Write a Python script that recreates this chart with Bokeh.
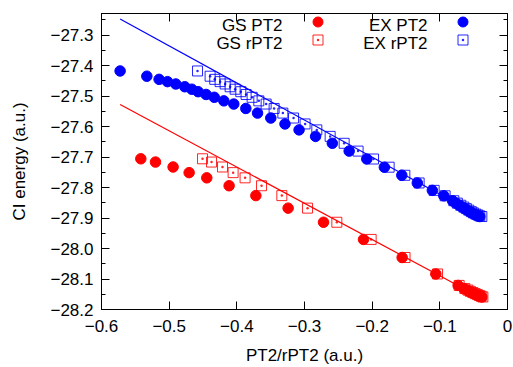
from bokeh.plotting import figure
from bokeh.models import (Range1d, FixedTicker, LinearAxis, Legend, LegendItem, Label,
                          CustomLabelingPolicy)
from bokeh.embed import file_html
from bokeh.resources import INLINE

# ---- data ----
gs_energy = [-27.7056, -27.7163, -27.7325, -27.7510, -27.7681, -27.7940, -27.8264,
             -27.8675, -27.9138, -27.9701, -28.0294, -28.0834, -28.1210, -28.1313,
             -28.1362, -28.1404, -28.1443, -28.1478, -28.1511, -28.1540, -28.1566, -28.1589]
gs_pt2 = [-0.5419, -0.5202, -0.4942, -0.4705, -0.4444, -0.4114, -0.3719,
          -0.3242, -0.2719, -0.2128, -0.1557, -0.1059, -0.0730, -0.0645,
          -0.0601, -0.0564, -0.0527, -0.0493, -0.0461, -0.0431, -0.0404, -0.0379]
gs_rpt2 = [-0.4507, -0.4374, -0.4212, -0.4055, -0.3878, -0.3635, -0.3335,
           -0.2955, -0.2522, -0.2015, -0.1514, -0.1034, -0.0715, -0.0630,
           -0.0586, -0.0549, -0.0512, -0.0478, -0.0446, -0.0416, -0.0390, -0.0364]

ex_energy = [-27.4175, -27.4347, -27.4450, -27.4525, -27.4602, -27.4693, -27.4774,
             -27.4855, -27.4946, -27.5039, -27.5156, -27.5260, -27.5405, -27.5557,
             -27.5719, -27.5913, -27.6108, -27.6321, -27.6548, -27.6804, -27.7063,
             -27.7332, -27.7597, -27.7849, -27.8092, -27.8270, -27.8432, -27.8510,
             -27.8580, -27.8640, -27.8690, -27.8740, -27.8790, -27.8830, -27.8870,
             -27.8900, -27.8930, -27.8950]
ex_pt2 = [-0.5725, -0.5330, -0.5149, -0.5025, -0.4902, -0.4769, -0.4665,
          -0.4572, -0.4454, -0.4333, -0.4192, -0.4045, -0.3867, -0.3694,
          -0.3498, -0.3288, -0.3080, -0.2836, -0.2589, -0.2340, -0.2079,
          -0.1820, -0.1562, -0.1333, -0.1111, -0.0941, -0.0812, -0.0764,
          -0.0712, -0.0667, -0.0630, -0.0594, -0.0557, -0.0527, -0.0490,
          -0.0460, -0.0431, -0.0409]
ex_rpt2 = [-0.4581, -0.4395, -0.4326, -0.4247, -0.4173, -0.4099, -0.4025,
           -0.3941, -0.3863, -0.3774, -0.3675, -0.3567, -0.3449, -0.3320,
           -0.3162, -0.2991, -0.2818, -0.2621, -0.2414, -0.2208, -0.1980,
           -0.1749, -0.1517, -0.1306, -0.1084, -0.0922, -0.0793, -0.0741,
           -0.0690, -0.0645, -0.0608, -0.0572, -0.0535, -0.0505, -0.0468,
           -0.0438, -0.0409, -0.0379]

# linear fits (end points)
gs_fit_x = [-0.5725, -0.036]
gs_fit_y = [-27.5276, -28.1656]
ex_fit_x = [-0.5725, -0.036]
ex_fit_y = [-27.2470, -27.9000]

x_ticks = [-0.6, -0.5, -0.4, -0.3, -0.2, -0.1, 0.0]
x_tick_labels = ["\u22120.6", "\u22120.5", "\u22120.4", "\u22120.3", "\u22120.2", "\u22120.1", "0"]
y_ticks = [-28.2, -28.1, -28.0, -27.9, -27.8, -27.7, -27.6, -27.5, -27.4, -27.3]
y_tick_labels = ["\u221228.2", "\u221228.1", "\u221228.0", "\u221227.9", "\u221227.8",
                 "\u221227.7", "\u221227.6", "\u221227.5", "\u221227.4", "\u221227.3"]
y_minor = [-28.15, -28.05, -27.95, -27.85, -27.75, -27.65, -27.55, -27.45, -27.35, -27.25]

series_names = ["GS PT2", "GS rPT2", "EX PT2", "EX rPT2"]

RED = "#ff0000"
BLUE = "#0000ff"
FONT = "Liberation Sans"
FS = "17px"

p = figure(width=513, height=367, output_backend="svg", toolbar_location=None,
           x_range=Range1d(-0.6, 0.0), y_range=Range1d(-28.2, -27.229),
           min_border_left=101, min_border_right=6, min_border_top=13, min_border_bottom=54)
p.grid.visible = False
p.outline_line_color = "black"
p.outline_line_width = 1
p.background_fill_color = "white"
p.border_fill_color = "white"

xt = FixedTicker(ticks=x_ticks)
yt = FixedTicker(ticks=y_ticks, minor_ticks=y_minor)
xlabels = {t: l for t, l in zip(x_ticks, x_tick_labels)}
ylabels = {t: l for t, l in zip(y_ticks, y_tick_labels)}


def style(ax, show_labels, minor):
    ax.axis_line_color = "black"
    ax.major_tick_line_color = "black"
    ax.major_tick_in = 8
    ax.major_tick_out = 0
    if minor:
        ax.minor_tick_line_color = "black"
        ax.minor_tick_in = 4
        ax.minor_tick_out = 0
    else:
        ax.minor_tick_line_color = None
    ax.major_label_text_font = FONT
    ax.major_label_text_color = "black"
    if show_labels:
        ax.major_label_text_font_size = FS
    else:
        # mirror axis: ticks only, no labels drawn and no room taken
        ax.major_label_text_font_size = "0px"
        ax.major_label_policy = CustomLabelingPolicy(code="return new Set()")
        ax.major_label_standoff = 0


xa = p.xaxis[0]
xa.ticker = xt
xa.major_label_overrides = xlabels
style(xa, True, False)
xa.major_label_standoff = 10
xa.axis_label = "PT2/rPT2 (a.u.)"
xa.axis_label_text_font = FONT
xa.axis_label_text_font_size = FS
xa.axis_label_text_font_style = "normal"
xa.axis_label_text_color = "black"
xa.axis_label_standoff = 11

ya = p.yaxis[0]
ya.ticker = yt
ya.major_label_overrides = ylabels
style(ya, True, True)
ya.major_label_standoff = 8
ya.axis_label = "CI energy (a.u.)"
ya.axis_label_text_font = FONT
ya.axis_label_text_font_size = FS
ya.axis_label_text_font_style = "normal"
ya.axis_label_text_color = "black"
ya.axis_label_standoff = 18

top = LinearAxis(ticker=xt)
style(top, False, False)
p.add_layout(top, "above")
right = LinearAxis(ticker=yt)
style(right, False, True)
p.add_layout(right, "right")

r_gs = p.scatter(gs_pt2, gs_energy, marker="circle", size=10.5, color=RED)
r_gsr = p.scatter(gs_rpt2, gs_energy, marker="square_dot", size=10, fill_alpha=0,
                  line_color=RED, line_alpha=0.85, line_width=1)
r_ex = p.scatter(ex_pt2, ex_energy, marker="circle", size=10.5, color=BLUE)
r_exr = p.scatter(ex_rpt2, ex_energy, marker="square_dot", size=10, fill_alpha=0,
                  line_color=BLUE, line_alpha=0.85, line_width=1)
p.line(gs_fit_x, gs_fit_y, line_color=RED, line_width=1.2)
p.line(ex_fit_x, ex_fit_y, line_color=BLUE, line_width=1.2)

# legend: one row per Legend (symbols only), texts right-aligned left of them
legend_rows = [([r_gs, r_ex], 275), ([r_gsr, r_exr], 257)]
for rends, ly in legend_rows:
    lg = Legend(items=[LegendItem(label=" ", renderers=[r]) for r in rends],
                ncols=2, location=(204, ly), glyph_width=25, glyph_height=25,
                label_height=25, label_width=120, label_standoff=0, spacing=0,
                padding=0, margin=0, border_line_alpha=0, background_fill_alpha=0,
                label_text_font_size="8px")
    p.add_layout(lg)

legend_text_x = [-0.3325, -0.3325, -0.1182, -0.1182]
legend_text_y = [-27.2686, -27.3278, -27.2686, -27.3278]
for name, lx, ly in zip(series_names, legend_text_x, legend_text_y):
    p.add_layout(Label(x=lx, y=ly, text=name, text_align="right", text_baseline="middle",
                       text_font=FONT, text_font_size=FS, text_color="black"))

open("out.html", "w").write(file_html(p, INLINE))
